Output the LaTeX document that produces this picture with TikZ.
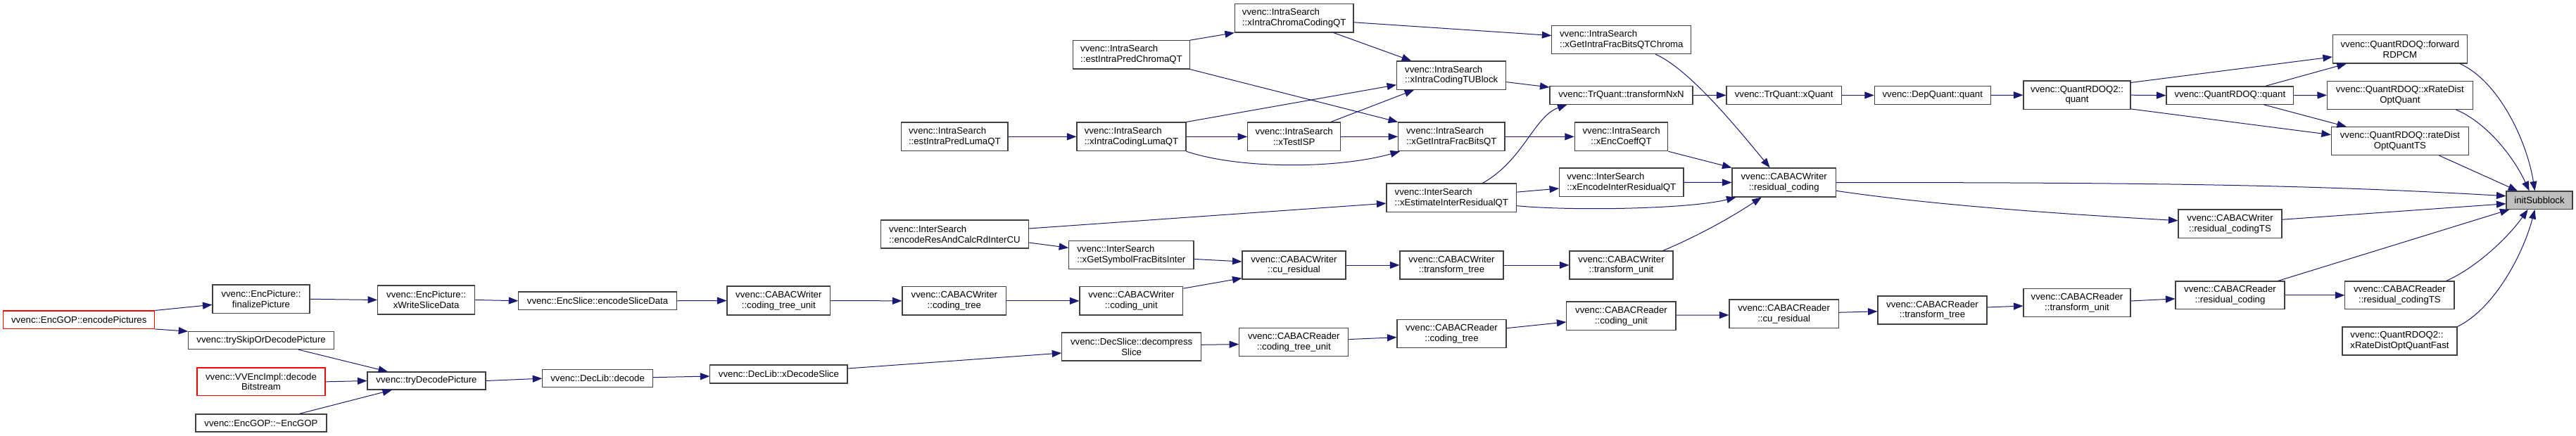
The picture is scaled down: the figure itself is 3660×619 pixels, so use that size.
\documentclass[tikz,border=0pt]{standalone}
\usepackage{fontspec}
\setmainfont{Liberation Sans}
\usetikzlibrary{arrows.meta,calc}
\definecolor{edgec}{HTML}{191970}
\definecolor{nodeb}{HTML}{404040}
\definecolor{redc}{HTML}{FF0000}
\definecolor{curc}{HTML}{BFBFBF}
\newcommand\nbox[7][]{\node[nb,#1,minimum width={(#5-#3)*1pt},minimum height={(#6-#4)*1pt}] (#2) at ({(#3+#5)/2},{(#4+#6)/2}) {#7};}
\begin{document}
\begin{tikzpicture}[x=1pt,y=-1pt,
  nb/.style={draw=nodeb,line width=1.1pt,fill=white,inner sep=0pt,align=center,font=\fontsize{13.2pt}{14.8pt}\selectfont},
  lft/.style={align=left},
  redb/.style={draw=redc},
  cur/.style={fill=curc},
  ed/.style={draw=edgec,line width=1pt,-{Triangle[length=13.5pt,width=10pt]}}]
\fill[white] (0,0) rectangle (3660,619);
\useasboundingbox (0,0) rectangle (3660,619);
% nodes
\nbox[redb]{ep}{4.7}{442}{219.8}{467.4}{vvenc::EncGOP::encodePictures}
\nbox{fp}{302}{405}{440}{445.6}{vvenc::EncPicture::\\finalizePicture}
\nbox{xw}{536.6}{406}{674.7}{447}{vvenc::EncPicture::\\xWriteSliceData}
\nbox{ts}{267.7}{471.7}{474.5}{496.6}{vvenc::trySkipOrDecodePicture}
\nbox[redb]{db}{280}{523}{462}{562.7}{vvenc::VVEncImpl::decode\\Bitstream}
\nbox{eg}{278}{589}{464}{614}{vvenc::EncGOP::\textasciitilde EncGOP}
\nbox{td}{522}{529}{690}{554}{vvenc::tryDecodePicture}
\nbox{es}{736.8}{415}{961.4}{440.5}{vvenc::EncSlice::encodeSliceData}
\nbox{wctu}{1033}{407}{1179.7}{448}{vvenc::CABACWriter\\::coding\_tree\_unit}
\nbox{dld}{770.8}{525.5}{927.4}{550.8}{vvenc::DecLib::decode}
\nbox{xds}{1008.9}{519}{1204}{545}{vvenc::DecLib::xDecodeSlice}
\nbox[lft]{epc}{1524.6}{57.7}{1690.3}{98}{vvenc::IntraSearch\\::estIntraPredChromaQT}
\nbox[lft]{xcc}{1754.4}{5.5}{1923}{46}{vvenc::IntraSearch\\::xIntraChromaCodingQT}
\nbox[lft]{eplq}{1280.7}{174}{1432}{214.7}{vvenc::IntraSearch\\::estIntraPredLumaQT}
\nbox[lft]{xilq}{1530}{174}{1685}{214.7}{vvenc::IntraSearch\\::xIntraCodingLumaQT}
\nbox{isp}{1772.6}{174}{1904.8}{214.7}{vvenc::IntraSearch\\::xTestISP}
\nbox[lft]{erc}{1251.4}{313}{1461.4}{353}{vvenc::InterSearch\\::encodeResAndCalcRdInterCU}
\nbox[lft]{gsfb}{1518.7}{342.4}{1696}{382.4}{vvenc::InterSearch\\::xGetSymbolFracBitsInter}
\nbox{wcr}{1765}{357}{1912}{397}{vvenc::CABACWriter\\::cu\_residual}
\nbox{wct}{1282}{407.7}{1429.7}{448}{vvenc::CABACWriter\\::coding\_tree}
\nbox{wcu}{1534}{407.7}{1680.8}{448}{vvenc::CABACWriter\\::coding\_unit}
\nbox{dsl}{1508.8}{473}{1706.5}{513}{vvenc::DecSlice::decompress\\Slice}
\nbox{rctu}{1760.7}{466.6}{1915.9}{506.5}{vvenc::CABACReader\\::coding\_tree\_unit}
\nbox[lft]{tub}{1984.7}{87}{2139.7}{127.3}{vvenc::IntraSearch\\::xIntraCodingTUBlock}
\nbox[lft]{gifc}{2204.9}{36.4}{2402.6}{76.7}{vvenc::IntraSearch\\::xGetIntraFracBitsQTChroma}
\nbox{tnn}{2202}{122.6}{2405}{148.3}{vvenc::TrQuant::transformNxN}
\nbox[lft]{gifq}{1986.6}{174}{2138}{214.7}{vvenc::IntraSearch\\::xGetIntraFracBitsQT}
\nbox{ecq}{2237.3}{174}{2369.8}{214.7}{vvenc::IntraSearch\\::xEncCoeffQT}
\nbox[lft]{eir}{1970}{261}{2154.7}{301.3}{vvenc::InterSearch\\::xEstimateInterResidualQT}
\nbox[lft]{encir}{2215.6}{239}{2392}{279.6}{vvenc::InterSearch\\::xEncodeInterResidualQT}
\nbox{wtt}{1989}{357}{2136}{397}{vvenc::CABACWriter\\::transform\_tree}
\nbox{wtu}{2230}{357}{2377}{397}{vvenc::CABACWriter\\::transform\_unit}
\nbox{rct}{1985}{454.7}{2140}{494.7}{vvenc::CABACReader\\::coding\_tree}
\nbox{rcu}{2225.9}{429}{2381}{469.4}{vvenc::CABACReader\\::coding\_unit}
\nbox{xq}{2453}{122.6}{2616.3}{148.3}{vvenc::TrQuant::xQuant}
\nbox{dq}{2663.3}{122.6}{2828.2}{148.3}{vvenc::DepQuant::quant}
\nbox{q2}{2875}{115}{3027}{155.4}{vvenc::QuantRDOQ2::\\quant}
\nbox{wrc}{2461}{239}{2608.4}{280}{vvenc::CABACWriter\\::residual\_coding}
\nbox{rcr}{2457}{426}{2612.3}{466.6}{vvenc::CABACReader\\::cu\_residual}
\nbox{rtt}{2668}{421}{2823}{461}{vvenc::CABACReader\\::transform\_tree}
\nbox{rtu}{2875}{410.4}{3027}{450.4}{vvenc::CABACReader\\::transform\_unit}
\nbox{fwd}{3314.4}{49.8}{3505.4}{90}{vvenc::QuantRDOQ::forward\\RDPCM}
\nbox{qq}{3078}{123}{3258.7}{148.3}{vvenc::QuantRDOQ::quant}
\nbox{xrd}{3306.5}{115.5}{3513.3}{155.4}{vvenc::QuantRDOQ::xRateDist\\OptQuant}
\nbox{rdts}{3312.4}{180.7}{3507.4}{220.6}{vvenc::QuantRDOQ::rateDist\\OptQuantTS}
\nbox[cur]{init}{3561}{272}{3655}{297.4}{initSubblock}
\nbox{wrts}{3095}{298}{3242}{338.5}{vvenc::CABACWriter\\::residual\_codingTS}
\nbox{rrc}{3091}{400}{3246}{439.7}{vvenc::CABACReader\\::residual\_coding}
\nbox{rrts}{3331.8}{400}{3487}{439.7}{vvenc::CABACReader\\::residual\_codingTS}
\nbox[lft]{q2f}{3328}{465}{3491}{505}{vvenc::QuantRDOQ2::\\xRateDistOptQuantFast}
% edges
\draw[ed] (ep.north east) -- ($(fp.west)+(0,8)$);
\draw[ed] (ep.south east) -- (ts.north west);
\draw[ed] (fp.east) -- (xw.west);
\draw[ed] (xw.east) -- (es.west);
\draw[ed] (es.east) -- (wctu.west);
\draw[ed] (wctu.east) -- (wct.west);
\draw[ed] (wct.east) -- (wcu.west);
\draw[ed] ($(wcu.north east)+(0,3)$) -- ($(wcr.south west)+(0,-2)$);
\draw[ed] ($(gsfb.east)+(0,6)$) -- ($(wcr.west)+(0,-5)$);
\draw[ed] ($(erc.east)+(0,12)$) -- ($(gsfb.west)+(0,-10)$);
\draw[ed] ($(erc.east)+(0,-8)$) -- ($(eir.west)+(0,8)$);
\draw[ed] (wcr.east) -- (wtt.west);
\draw[ed] (wtt.east) -- (wtu.west);
\draw[ed] ($(wtu.north east)+(-15,0)$) .. controls +(38.5,-16) and +(-52.8,35) .. ($(wrc.south)+(-32,0)$);
\draw[ed] ($(ts.south)+(52.8,0)$) -- ($(td.north west)+(29.6,0)$);
\draw[ed] (db.east) -- (td.west);
\draw[ed] ($(eg.north)+(54,0)$) -- ($(td.south west)+(35.5,0)$);
\draw[ed] (td.east) -- (dld.west);
\draw[ed] ($(dld.east)+(0,-1.5)$) -- ($(xds.west)+(0,3)$);
\draw[ed] ($(xds.east)+(0,-8)$) -- ($(dsl.west)+(0,9)$);
\draw[ed] ($(dsl.east)+(0,-2.7)$) -- ($(rctu.west)+(0,3)$);
\draw[ed] ($(rctu.east)+(0,-4)$) -- ($(rct.west)+(0,5)$);
\draw[ed] ($(rct.east)+(0,-8)$) -- ($(rcu.west)+(0,8.7)$);
\draw[ed] ($(rcu.east)+(0,-1)$) -- ($(rcr.west)+(0,1.7)$);
\draw[ed] ($(rcr.east)+(0,-2)$) -- ($(rtt.west)+(0,1.8)$);
\draw[ed] ($(rtt.east)+(0,-4)$) -- ($(rtu.west)+(0,4.6)$);
\draw[ed] ($(rtu.east)+(0,-2.4)$) -- ($(rrc.west)+(0,5)$);
\draw[ed] (rrc.east) -- (rrts.west);
\draw[ed] ($(rrc.north east)+(-10,0)$) -- ($(init.south west)+(5,0)$);
\draw[ed] ($(rrts.north east)+(-12,0)$) .. controls +(45,-20) and +(-26.6,37.6) .. ($(init.south)+(-16.4,0)$);
\draw[ed] (q2f.north east) .. controls +(53,-26) and +(-16.5,62.6) .. ($(init.south)+(-6.5,0)$);
\draw[ed] (wrc.east) .. controls +(491.6,0) and +(-261,-14.8) .. ($(init.west)+(0,-6)$);
\draw[ed] ($(wrc.east)+(0,11.8)$) .. controls +(91.6,13.7) and +(-245,-13.6) .. ($(wrts.west)+(0,-4.6)$);
\draw[ed] ($(wrts.east)+(0,-6)$) -- ($(init.west)+(0,5)$);
\draw[ed] (eplq.east) -- (xilq.west);
\draw[ed] (xilq.east) -- (isp.west);
\draw[ed] (xilq.north east) -- ($(tub.west)+(0,13.5)$);
\draw[ed] (xilq.south east) .. controls +(75,25.3) and +(-90,25.3) .. ($(gifq.south west)+(3,0)$);
\draw[ed] ($(isp.north)+(52,0)$) -- ($(tub.south west)+(25,0)$);
\draw[ed] (isp.east) -- (gifq.west);
\draw[ed] (epc.north east) -- (xcc.south west);
\draw[ed] (epc.south east) -- (gifq.north west);
\draw[ed] ($(xcc.south)+(56,0)$) -- ($(tub.north west)+(21,0)$);
\draw[ed] ($(xcc.east)+(0,6)$) -- ($(gifc.west)+(0,-6)$);
\draw[ed] ($(tub.east)+(0,9.5)$) -- ($(tnn.north west)+(0,2)$);
\draw[ed] (gifq.east) -- (ecq.west);
\draw[ed] ($(gifc.south east)+(-51,0)$) .. controls +(46,20) and +(-51,-62) .. ($(wrc.north)+(-20,0)$);
\draw[ed] (ecq.south east) -- (wrc.north west);
\draw[ed] ($(eir.north)+(44,0)$) .. controls +(58.6,-33) and +(-47,16.7) .. ($(tnn.south west)+(25,0)$);
\draw[ed] ($(eir.east)+(0,-8)$) -- ($(encir.west)+(0,8.7)$);
\draw[ed] ($(eir.east)+(0,11.5)$) .. controls +(75,7.4) and +(-67,17) .. ($(wrc.south west)+(6,0)$);
\draw[ed] (encir.east) -- (wrc.west);
\draw[ed] (tnn.east) -- (xq.west);
\draw[ed] (xq.east) -- (dq.west);
\draw[ed] (dq.east) -- (q2.west);
\draw[ed] (q2.east) -- (qq.west);
\draw[ed] ($(q2.north east)+(0,3)$) -- ($(fwd.west)+(0,11)$);
\draw[ed] ($(q2.south east)+(0,-1)$) -- ($(rdts.west)+(0,-9)$);
\draw[ed] ($(qq.north)+(50,0)$) -- ($(fwd.south west)+(20,0)$);
\draw[ed] (qq.east) -- (xrd.west);
\draw[ed] ($(qq.south)+(48,0)$) -- ($(rdts.north west)+(22,0)$);
\draw[ed] ($(fwd.south east)+(-11,0)$) .. controls +(55,25) and +(-11.5,-72) .. ($(init.north)+(-6.5,0)$);
\draw[ed] ($(xrd.south east)+(-24.5,0)$) .. controls +(41,17) and +(-24,-52) .. ($(init.north)+(-14.4,0)$);
\draw[ed] ($(rdts.south east)+(-42.4,0)$) -- ($(init.north west)+(16.7,0)$);
\end{tikzpicture}
\end{document}
